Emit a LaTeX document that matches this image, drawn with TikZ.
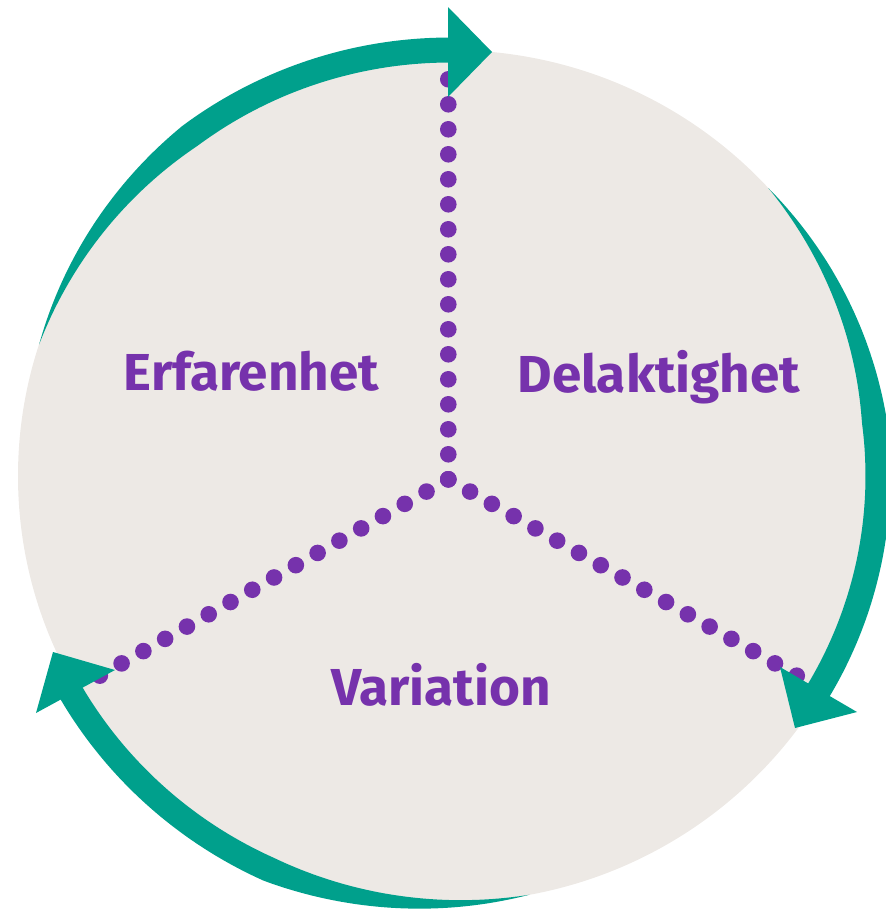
\documentclass[tikz,border=0pt]{standalone}
\usepackage{fontspec}
\setmainfont{Fira Sans}[FakeStretch=1.02]
\usetikzlibrary{calc}
\definecolor{discfill}{HTML}{EDE9E5}
\definecolor{cteal}{HTML}{00A08C}
\definecolor{cpurple}{HTML}{7632AC}
\newcommand\tealband[5]{%
  \fill[cteal] plot[domain=#1:#2,samples=90]
    ({450+(432+(#3+#4)*min(1,abs(\x-(#1))/#5))*cos(\x)},{476-(426+(#3+#4)*min(1,abs(\x-(#1))/#5))*sin(\x)})
    -- plot[domain=#2:#1,samples=90]
    ({450+(432+(#3-#4)*min(1,abs(\x-(#1))/#5))*cos(\x)},{476-(426+(#3-#4)*min(1,abs(\x-(#1))/#5))*sin(\x)})
    -- cycle;}
\tikzset{
  lbl/.style={text=cpurple, font=\fontsize{52}{62}\selectfont\bfseries, inner sep=0pt},
  dot/.style={fill=cpurple},
  head/.style={fill=cteal}
}
\begin{document}
\begin{tikzpicture}[x=1pt,y=-1pt]
\useasboundingbox (0,0) rectangle (886,913);
% disc
\fill[discfill] (450,476) ellipse [x radius=432, y radius=426];
% dotted spokes
\coordinate (O) at (448.3,479.3);
\foreach \a in {270,150.6,29.4}{
  \foreach \i in {0,...,16}{
    \fill[dot] ($(O)+(\a:\i*25)$) circle (8.3);
  }
}
% teal arcs
\tealband{162}{88}{0}{12.5}{35}
\tealband{42.5}{-32}{-4}{12.5}{35}
\tealband{-79.4}{-152}{6}{12.5}{35}
% arrowheads
\fill[head] (448,7) -- (492,52) -- (448,97) -- cycle;
\fill[head] (780,667) -- (857,712) -- (795,728) -- cycle;
\fill[head] (115,670) -- (36,713) -- (53,652) -- cycle;
% labels
\node[lbl, anchor=base] (erf) at (251.5,390) {Erfarenhet};
\node[lbl, anchor=base] (del) at (659,392) {Delaktighet};
\node[lbl, anchor=base] (var) at (441,705) {Variation};
\end{tikzpicture}
\end{document}
